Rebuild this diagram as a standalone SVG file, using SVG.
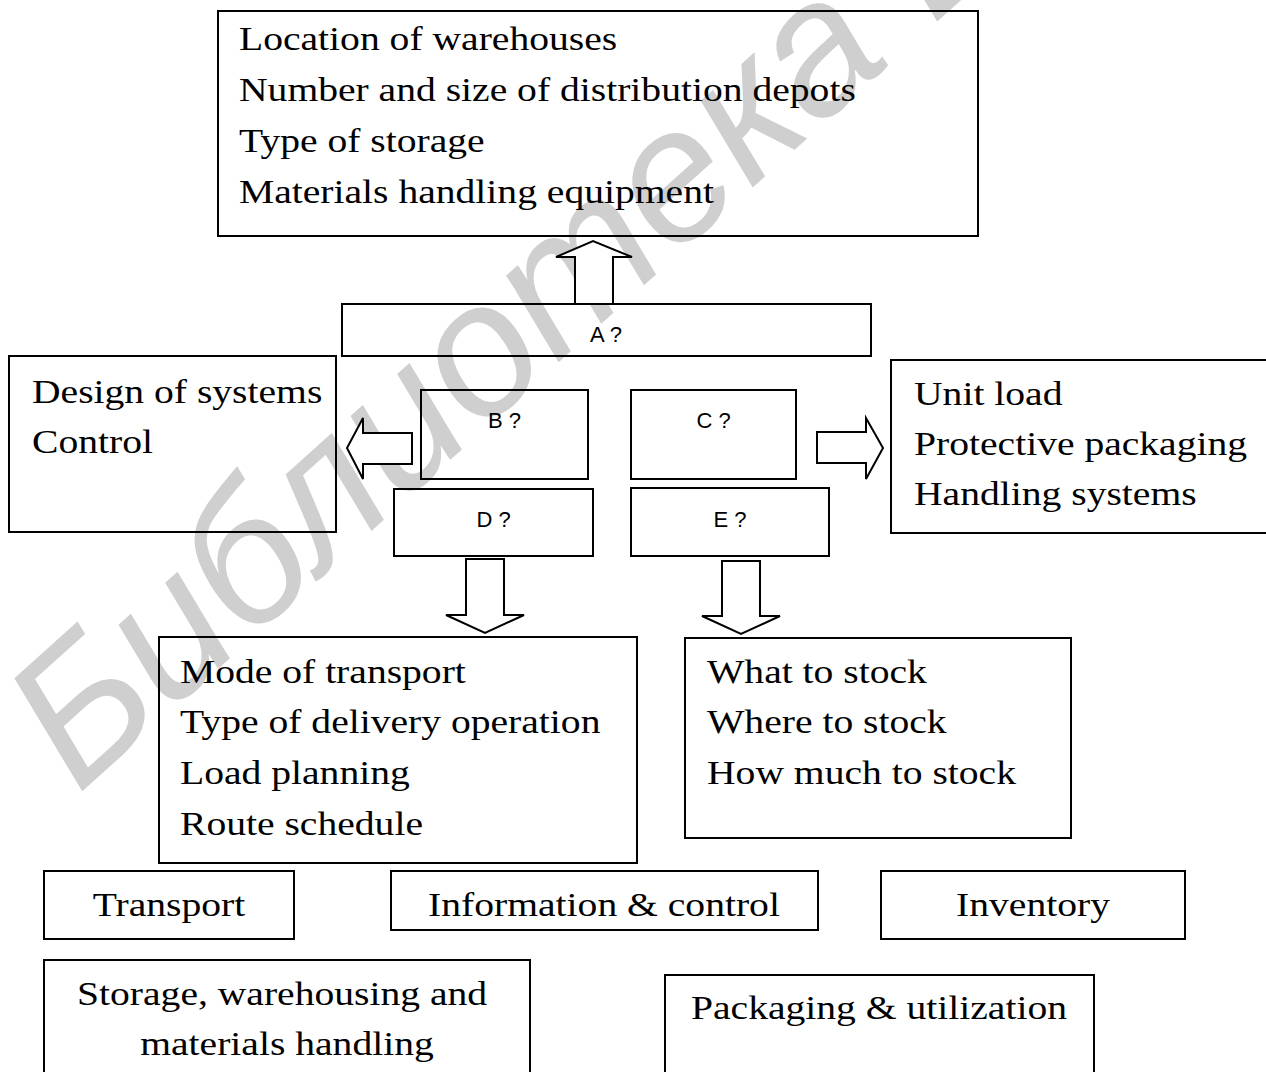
<svg xmlns="http://www.w3.org/2000/svg" width="1266" height="1072" viewBox="0 0 1266 1072">
  <style>
    .box { fill: none; stroke: #000; stroke-width: 2; }
    .arrow { fill: #fff; stroke: #000; stroke-width: 2; stroke-linejoin: miter; }
    .serif { font-family: "Liberation Serif", "Times New Roman", serif; font-size: 33px; fill: #000; }
    .mid { text-anchor: middle; }
    .tag { font-family: "Liberation Sans", Arial, sans-serif; font-size: 22px; fill: #000; text-anchor: middle; }
    .mark { font-family: "Liberation Sans", Arial, sans-serif; font-size: 188px; font-style: italic; fill: #cfcfcf; }
  </style>

  <rect width="1266" height="1072" fill="#fff"/>

  <!-- library stamp running diagonally across the sheet -->
  <text class="mark" transform="translate(78,795) rotate(-42)">Библиотека Б</text>

  <!-- block arrows -->
  <g id="connectors">
    <polygon class="arrow" points="575,304 575,257 556,257 593,241 632,257 613,257 613,304"/>
    <polygon class="arrow" points="412,433 363,433 363,418 347,448 363,479 363,464 412,464"/>
    <polygon class="arrow" points="817,432 866,432 866,418 883,448 866,479 866,463 817,463"/>
    <polygon class="arrow" points="466,559 504,559 504,615 524,615 485,633 446,615 466,615"/>
    <polygon class="arrow" points="722,561 760,561 760,616 780,616 741,634 702,616 722,616"/>
  </g>

  <g id="storage-decisions">
    <rect class="box" x="218" y="11" width="760" height="225"/>
    <g transform="translate(239,0) scale(1.2,1)">
      <text class="serif">
        <tspan x="0" y="50">Location of warehouses</tspan>
        <tspan x="0" y="101">Number and size of distribution depots</tspan>
        <tspan x="0" y="152">Type of storage</tspan>
        <tspan x="0" y="203">Materials handling equipment</tspan>
      </text>
    </g>
  </g>

  <g id="node-a">
    <rect class="box" x="342" y="304" width="529" height="52"/>
    <text class="tag" x="606" y="342">A ?</text>
  </g>

  <g id="node-b">
    <rect class="box" x="421" y="390" width="167" height="89"/>
    <text class="tag" x="504.5" y="428">B ?</text>
  </g>

  <g id="node-c">
    <rect class="box" x="631" y="390" width="165" height="89"/>
    <text class="tag" x="713.5" y="428">C ?</text>
  </g>

  <g id="node-d">
    <rect class="box" x="394" y="489" width="199" height="67"/>
    <text class="tag" x="493.5" y="527">D ?</text>
  </g>

  <g id="node-e">
    <rect class="box" x="631" y="488" width="198" height="68"/>
    <text class="tag" x="730" y="527">E ?</text>
  </g>

  <g id="info-decisions">
    <rect class="box" x="9" y="356" width="327" height="176"/>
    <g transform="translate(32,0) scale(1.2,1)">
      <text class="serif">
        <tspan x="0" y="403">Design of systems</tspan>
        <tspan x="0" y="453">Control</tspan>
      </text>
    </g>
  </g>

  <g id="packaging-decisions">
    <rect class="box" x="891" y="360" width="380" height="173"/>
    <g transform="translate(914,0) scale(1.2,1)">
      <text class="serif">
        <tspan x="0" y="405">Unit load</tspan>
        <tspan x="0" y="455">Protective packaging</tspan>
        <tspan x="0" y="505">Handling systems</tspan>
      </text>
    </g>
  </g>

  <g id="transport-decisions">
    <rect class="box" x="159" y="637" width="478" height="226"/>
    <g transform="translate(180,0) scale(1.2,1)">
      <text class="serif">
        <tspan x="0" y="683">Mode of transport</tspan>
        <tspan x="0" y="733">Type of delivery operation</tspan>
        <tspan x="0" y="784">Load planning</tspan>
        <tspan x="0" y="835">Route schedule</tspan>
      </text>
    </g>
  </g>

  <g id="inventory-decisions">
    <rect class="box" x="685" y="638" width="386" height="200"/>
    <g transform="translate(707,0) scale(1.2,1)">
      <text class="serif">
        <tspan x="0" y="683">What to stock</tspan>
        <tspan x="0" y="733">Where to stock</tspan>
        <tspan x="0" y="784">How much to stock</tspan>
      </text>
    </g>
  </g>

  <g id="transport">
    <rect class="box" x="44" y="871" width="250" height="68"/>
    <g transform="translate(169,0) scale(1.2,1)">
      <text class="serif mid" x="0" y="916">Transport</text>
    </g>
  </g>

  <g id="information-control">
    <rect class="box" x="391" y="871" width="427" height="59"/>
    <g transform="translate(604,0) scale(1.2,1)">
      <text class="serif mid" x="0" y="916">Information &amp; control</text>
    </g>
  </g>

  <g id="inventory">
    <rect class="box" x="881" y="871" width="304" height="68"/>
    <g transform="translate(1033,0) scale(1.2,1)">
      <text class="serif mid" x="0" y="916">Inventory</text>
    </g>
  </g>

  <g id="storage">
    <rect class="box" x="44" y="960" width="486" height="130"/>
    <g transform="translate(287,0) scale(1.2,1)">
      <text class="serif mid">
        <tspan x="0" y="1005">Storage, warehousing and</tspan>
        <tspan x="0" y="1055">materials handling</tspan>
      </text>
    </g>
  </g>

  <g id="packaging">
    <rect class="box" x="665" y="975" width="429" height="115"/>
    <g transform="translate(879,0) scale(1.2,1)">
      <text class="serif mid" x="0" y="1019">Packaging &amp; utilization</text>
    </g>
  </g>
</svg>
